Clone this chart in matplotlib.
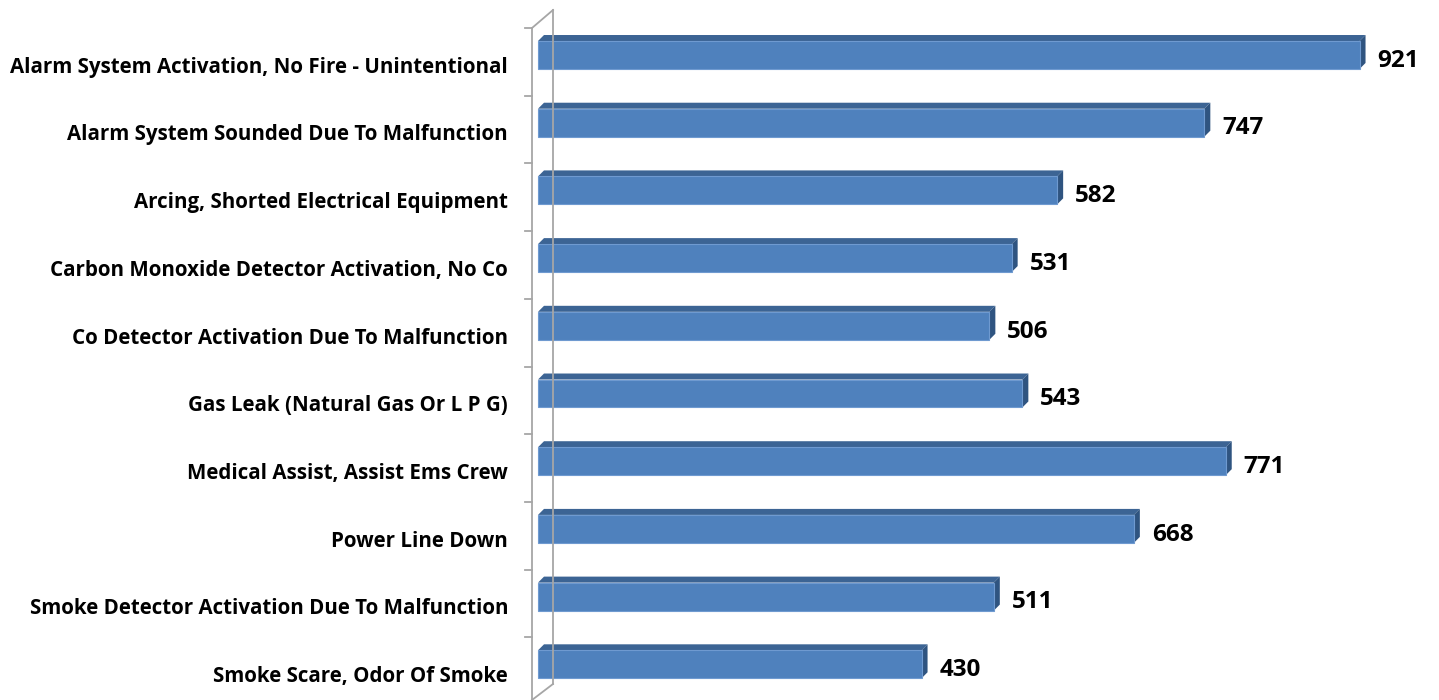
import matplotlib.pyplot as plt
from matplotlib.patches import Polygon, Rectangle

categories = [
    "Alarm System Activation, No Fire - Unintentional",
    "Alarm System Sounded Due To Malfunction",
    "Arcing, Shorted Electrical Equipment",
    "Carbon Monoxide Detector Activation, No Co",
    "Co Detector Activation Due To Malfunction",
    "Gas Leak (Natural Gas Or L P G)",
    "Medical Assist, Assist Ems Crew",
    "Power Line Down",
    "Smoke Detector Activation Due To Malfunction",
    "Smoke Scare, Odor Of Smoke",
]
counts = [921, 747, 582, 531, 506, 543, 771, 668, 511, 430]

front_c = "#4F81BD"
top_c = "#3C6494"
side_c = "#2F5480"
wall_c = "#A6A6A6"

fig = plt.figure(figsize=(14.39, 7.0), dpi=100)
ax = fig.add_axes([0, 0, 1, 1])
# x: 0 at pixel 538, 0.892 px per unit; y: category index, slot height 67.7 px
ax.set_xlim(-538 / 0.892, (1439 - 538) / 0.892)
ax.set_ylim((700 - 62) / 67.7, -62 / 67.7)
ax.axis("off")

px = 1 / 0.892
py = 1 / 67.7

# walls (3D frame)
x_front, x_back = -6 * px, 15 * px
y_top_front, y_top_back = (28 - 62) * py, (10 - 62) * py
y_bot_front, y_bot_back = (700 - 62) * py, (684 - 62) * py
ax.plot([x_front, x_front], [y_top_front, y_bot_front], color=wall_c, lw=1.3)
ax.plot([x_back, x_back], [y_top_back, y_bot_back], color=wall_c, lw=1.3)
ax.plot([x_front, x_back], [y_top_front, y_top_back], color=wall_c, lw=1.3)
ax.plot([x_front, x_back], [y_bot_front, y_bot_back], color=wall_c, lw=1.3)
for k in range(len(categories)):
    yt = k - 0.5 + (28 - 62 + 33.85) * py
    ax.plot([x_front - 7 * px, x_front], [yt, yt], color=wall_c, lw=1.3)

dx, dy = 6 * px, 6 * py
for i, (lab, v) in enumerate(zip(categories, counts)):
    y0 = i - 0.31
    y1 = i + 0.103
    ax.add_patch(Polygon([(0, y0), (v, y0), (v + dx, y0 - dy), (dx, y0 - dy)],
                         closed=True, facecolor=top_c, edgecolor="none"))
    ax.add_patch(Polygon([(v, y0), (v + dx, y0 - dy), (v + dx, y1 - dy), (v, y1)],
                         closed=True, facecolor=side_c, edgecolor="none"))
    ax.add_patch(Rectangle((0, y0), v, y1 - y0, facecolor=front_c,
                           edgecolor="#6F9AD0", lw=0.8))
    ax.text(v + dx + 12 * px, (y0 + y1) / 2 + 0.04, str(v), ha="left",
            va="center_baseline", fontsize=17.5, fontweight="bold",
            family="Open Sans", color="black")
    ax.text(-30 * px, i + 0.04, lab, ha="right", va="center_baseline",
            fontsize=14.8, fontweight="bold", family="Open Sans", color="black")

fig.savefig("out.png", dpi=100)
